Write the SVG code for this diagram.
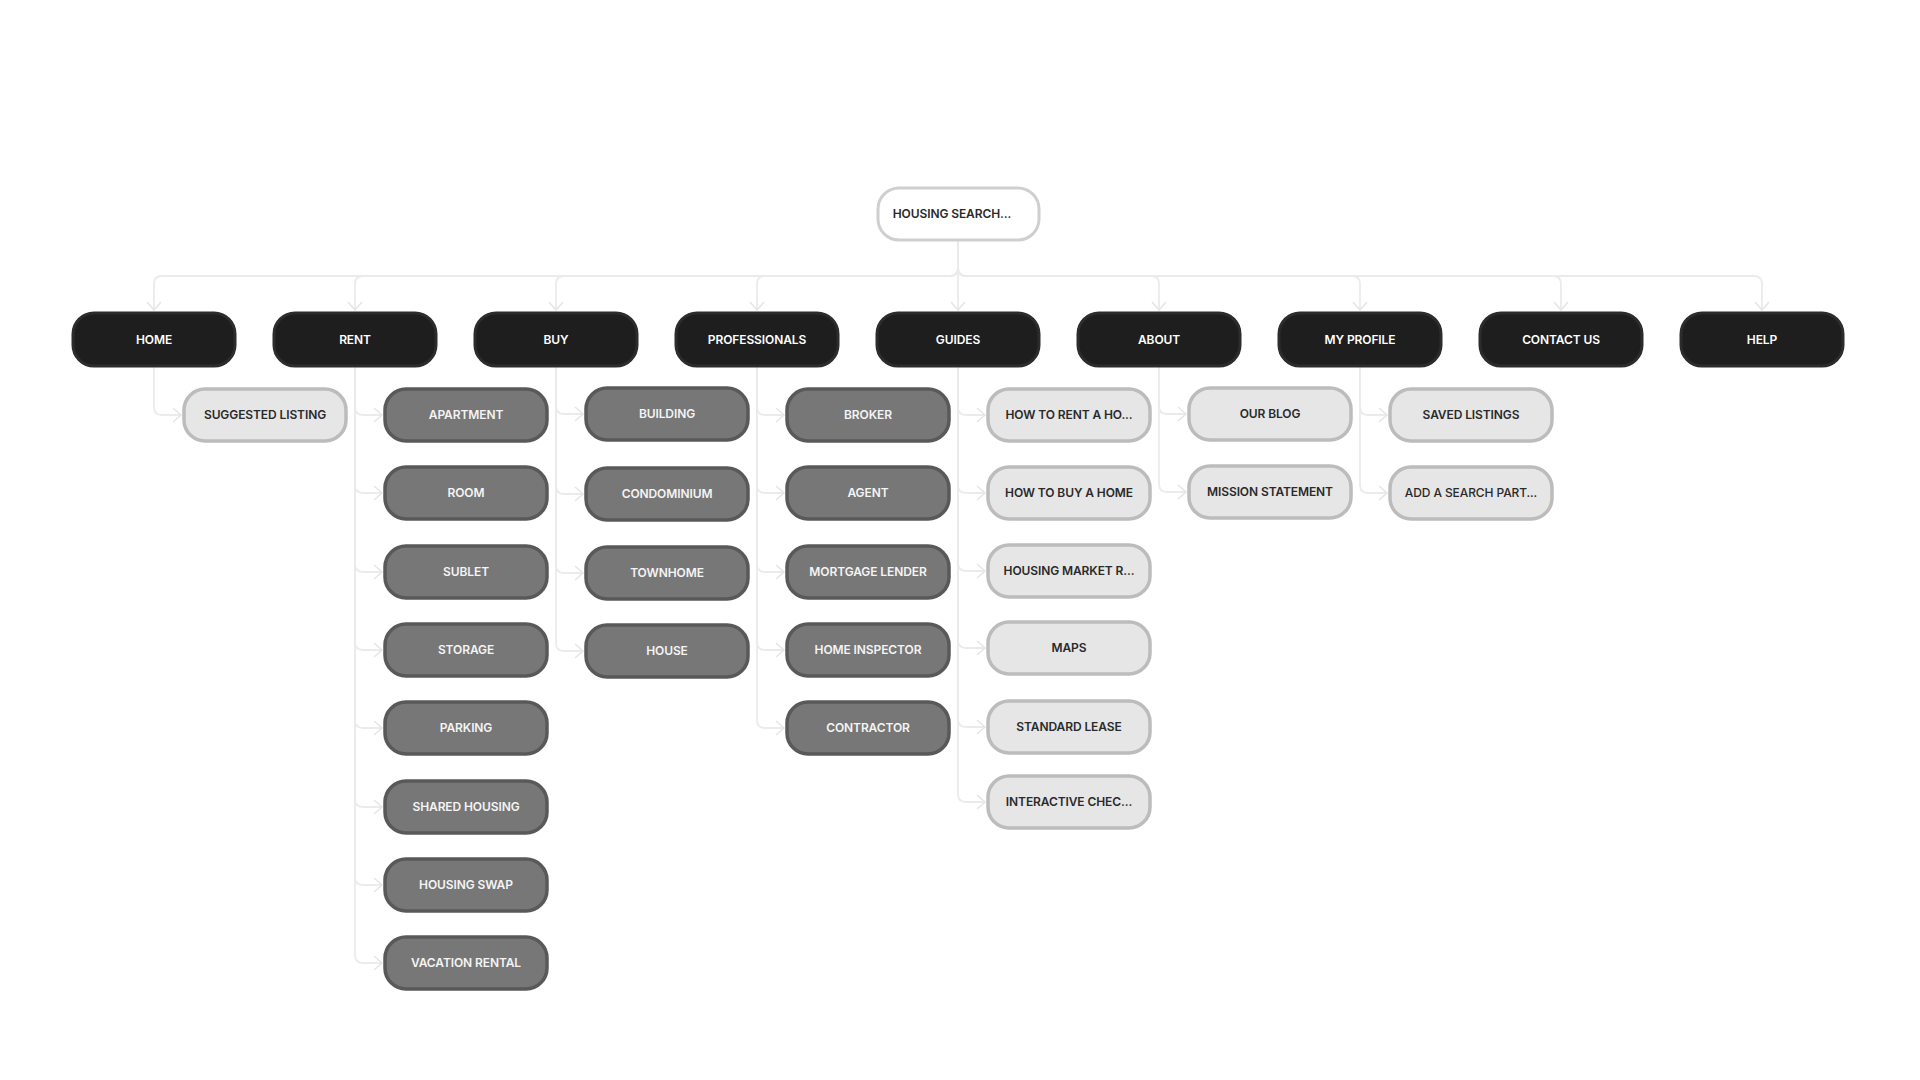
<svg xmlns="http://www.w3.org/2000/svg" width="1920" height="1080" viewBox="0 0 1920 1080">
<defs>
<style>
.t{font-family:Inter,"Noto Sans","Liberation Sans",sans-serif;font-size:12px;font-weight:600;text-anchor:middle;letter-spacing:-0.1px}
.root rect{fill:#ffffff;stroke:#cfcfcf;stroke-width:3}
.root text{fill:#2a2a2a}
.l1 rect{fill:#1e1e1e;stroke:#2c2c2c;stroke-width:3}
.l1 text{fill:#ffffff}
.dk rect{fill:#777777;stroke:#595959;stroke-width:3.5}
.dk text{fill:#f4f4f4}
.lt rect{fill:#e6e6e6;stroke:#bcbcbc;stroke-width:3.5}
.lt text{fill:#2a2a2a}
.c path{fill:none;stroke:#ebebeb;stroke-width:1.8}
</style>
<marker id="ah" markerUnits="userSpaceOnUse" markerWidth="12" markerHeight="16" viewBox="0 0 12 16" refX="10" refY="8" orient="auto">
<path d="M2 1 L10 8 L2 15" fill="none" stroke="#e6e6e6" stroke-width="1.6"/>
</marker>
</defs>
<rect width="1920" height="1080" fill="#ffffff"/>
<g class="c" id="connectors">
<path d="M958 241 V268 Q958 276 950 276 H162 Q154 276 154 284 V310" marker-end="url(#ah)"/>
<path d="M958 241 V268 Q958 276 950 276 H363 Q355 276 355 284 V310" marker-end="url(#ah)"/>
<path d="M958 241 V268 Q958 276 950 276 H564 Q556 276 556 284 V310" marker-end="url(#ah)"/>
<path d="M958 241 V268 Q958 276 950 276 H765 Q757 276 757 284 V310" marker-end="url(#ah)"/>
<path d="M958 241 V310" marker-end="url(#ah)"/>
<path d="M958 241 V268 Q958 276 966 276 H1151 Q1159 276 1159 284 V310" marker-end="url(#ah)"/>
<path d="M958 241 V268 Q958 276 966 276 H1352 Q1360 276 1360 284 V310" marker-end="url(#ah)"/>
<path d="M958 241 V268 Q958 276 966 276 H1553 Q1561 276 1561 284 V310" marker-end="url(#ah)"/>
<path d="M958 241 V268 Q958 276 966 276 H1754 Q1762 276 1762 284 V310" marker-end="url(#ah)"/>
<path d="M154 367 V407 Q154 415 162 415 H181" marker-end="url(#ah)"/>
<path d="M355 367 V407 Q355 415 363 415 H382" marker-end="url(#ah)"/>
<path d="M355 367 V485 Q355 493 363 493 H382" marker-end="url(#ah)"/>
<path d="M355 367 V564 Q355 572 363 572 H382" marker-end="url(#ah)"/>
<path d="M355 367 V642 Q355 650 363 650 H382" marker-end="url(#ah)"/>
<path d="M355 367 V720 Q355 728 363 728 H382" marker-end="url(#ah)"/>
<path d="M355 367 V799 Q355 807 363 807 H382" marker-end="url(#ah)"/>
<path d="M355 367 V877 Q355 885 363 885 H382" marker-end="url(#ah)"/>
<path d="M355 367 V955 Q355 963 363 963 H382" marker-end="url(#ah)"/>
<path d="M556 367 V406 Q556 414 564 414 H583" marker-end="url(#ah)"/>
<path d="M556 367 V486 Q556 494 564 494 H583" marker-end="url(#ah)"/>
<path d="M556 367 V565 Q556 573 564 573 H583" marker-end="url(#ah)"/>
<path d="M556 367 V643 Q556 651 564 651 H583" marker-end="url(#ah)"/>
<path d="M757 367 V407 Q757 415 765 415 H784" marker-end="url(#ah)"/>
<path d="M757 367 V485 Q757 493 765 493 H784" marker-end="url(#ah)"/>
<path d="M757 367 V564 Q757 572 765 572 H784" marker-end="url(#ah)"/>
<path d="M757 367 V642 Q757 650 765 650 H784" marker-end="url(#ah)"/>
<path d="M757 367 V720 Q757 728 765 728 H784" marker-end="url(#ah)"/>
<path d="M958 367 V407 Q958 415 966 415 H985" marker-end="url(#ah)"/>
<path d="M958 367 V485 Q958 493 966 493 H985" marker-end="url(#ah)"/>
<path d="M958 367 V563 Q958 571 966 571 H985" marker-end="url(#ah)"/>
<path d="M958 367 V640 Q958 648 966 648 H985" marker-end="url(#ah)"/>
<path d="M958 367 V719 Q958 727 966 727 H985" marker-end="url(#ah)"/>
<path d="M958 367 V794 Q958 802 966 802 H985" marker-end="url(#ah)"/>
<path d="M1159 367 V406 Q1159 414 1167 414 H1186" marker-end="url(#ah)"/>
<path d="M1159 367 V484 Q1159 492 1167 492 H1186" marker-end="url(#ah)"/>
<path d="M1360 367 V407 Q1360 415 1368 415 H1387" marker-end="url(#ah)"/>
<path d="M1360 367 V485 Q1360 493 1368 493 H1387" marker-end="url(#ah)"/>
</g>
<g id="root" class="root"><rect x="878" y="188" width="161" height="52" rx="21"/><text class="t" x="952" y="217.5">HOUSING SEARCH...</text></g>
<g id="home" class="l1"><rect x="73" y="313" width="162" height="53" rx="21"/><text class="t" x="154" y="343.5">HOME</text></g>
<g id="rent" class="l1"><rect x="274" y="313" width="162" height="53" rx="21"/><text class="t" x="355" y="343.5">RENT</text></g>
<g id="buy" class="l1"><rect x="475" y="313" width="162" height="53" rx="21"/><text class="t" x="556" y="343.5">BUY</text></g>
<g id="professionals" class="l1"><rect x="676" y="313" width="162" height="53" rx="21"/><text class="t" x="757" y="343.5">PROFESSIONALS</text></g>
<g id="guides" class="l1"><rect x="877" y="313" width="162" height="53" rx="21"/><text class="t" x="958" y="343.5">GUIDES</text></g>
<g id="about" class="l1"><rect x="1078" y="313" width="162" height="53" rx="21"/><text class="t" x="1159" y="343.5">ABOUT</text></g>
<g id="myprofile" class="l1"><rect x="1279" y="313" width="162" height="53" rx="21"/><text class="t" x="1360" y="343.5">MY PROFILE</text></g>
<g id="contactus" class="l1"><rect x="1480" y="313" width="162" height="53" rx="21"/><text class="t" x="1561" y="343.5">CONTACT US</text></g>
<g id="help" class="l1"><rect x="1681" y="313" width="162" height="53" rx="21"/><text class="t" x="1762" y="343.5">HELP</text></g>

<g id="suggested" class="lt"><rect x="184" y="389" width="162" height="52" rx="21"/><text class="t" x="265" y="418.5">SUGGESTED LISTING</text></g>

<g id="apartment" class="dk"><rect x="385" y="389" width="162" height="52" rx="21"/><text class="t" x="466" y="418.5">APARTMENT</text></g>
<g id="room" class="dk"><rect x="385" y="467" width="162" height="52" rx="21"/><text class="t" x="466" y="496.5">ROOM</text></g>
<g id="sublet" class="dk"><rect x="385" y="546" width="162" height="52" rx="21"/><text class="t" x="466" y="575.5">SUBLET</text></g>
<g id="storage" class="dk"><rect x="385" y="624" width="162" height="52" rx="21"/><text class="t" x="466" y="653.5">STORAGE</text></g>
<g id="parking" class="dk"><rect x="385" y="702" width="162" height="52" rx="21"/><text class="t" x="466" y="731.5">PARKING</text></g>
<g id="shared" class="dk"><rect x="385" y="781" width="162" height="52" rx="21"/><text class="t" x="466" y="810.5">SHARED HOUSING</text></g>
<g id="swap" class="dk"><rect x="385" y="859" width="162" height="52" rx="21"/><text class="t" x="466" y="888.5">HOUSING SWAP</text></g>
<g id="vacation" class="dk"><rect x="385" y="937" width="162" height="52" rx="21"/><text class="t" x="466" y="966.5">VACATION RENTAL</text></g>

<g id="building" class="dk"><rect x="586" y="388" width="162" height="52" rx="21"/><text class="t" x="667" y="417.5">BUILDING</text></g>
<g id="condominium" class="dk"><rect x="586" y="468" width="162" height="52" rx="21"/><text class="t" x="667" y="497.5">CONDOMINIUM</text></g>
<g id="townhome" class="dk"><rect x="586" y="547" width="162" height="52" rx="21"/><text class="t" x="667" y="576.5">TOWNHOME</text></g>
<g id="house" class="dk"><rect x="586" y="625" width="162" height="52" rx="21"/><text class="t" x="667" y="654.5">HOUSE</text></g>

<g id="broker" class="dk"><rect x="787" y="389" width="162" height="52" rx="21"/><text class="t" x="868" y="418.5">BROKER</text></g>
<g id="agent" class="dk"><rect x="787" y="467" width="162" height="52" rx="21"/><text class="t" x="868" y="496.5">AGENT</text></g>
<g id="mortgage" class="dk"><rect x="787" y="546" width="162" height="52" rx="21"/><text class="t" x="868" y="575.5">MORTGAGE LENDER</text></g>
<g id="inspector" class="dk"><rect x="787" y="624" width="162" height="52" rx="21"/><text class="t" x="868" y="653.5">HOME INSPECTOR</text></g>
<g id="contractor" class="dk"><rect x="787" y="702" width="162" height="52" rx="21"/><text class="t" x="868" y="731.5">CONTRACTOR</text></g>

<g id="howrent" class="lt"><rect x="988" y="389" width="162" height="52" rx="21"/><text class="t" x="1069" y="418.5">HOW TO RENT A HO...</text></g>
<g id="howbuy" class="lt"><rect x="988" y="467" width="162" height="52" rx="21"/><text class="t" x="1069" y="496.5">HOW TO BUY A HOME</text></g>
<g id="market" class="lt"><rect x="988" y="545" width="162" height="52" rx="21"/><text class="t" x="1069" y="574.5">HOUSING MARKET R...</text></g>
<g id="maps" class="lt"><rect x="988" y="622" width="162" height="52" rx="21"/><text class="t" x="1069" y="651.5">MAPS</text></g>
<g id="lease" class="lt"><rect x="988" y="701" width="162" height="52" rx="21"/><text class="t" x="1069" y="730.5">STANDARD LEASE</text></g>
<g id="checklist" class="lt"><rect x="988" y="776" width="162" height="52" rx="21"/><text class="t" x="1069" y="805.5">INTERACTIVE CHEC...</text></g>

<g id="blog" class="lt"><rect x="1189" y="388" width="162" height="52" rx="21"/><text class="t" x="1270" y="417.5">OUR BLOG</text></g>
<g id="mission" class="lt"><rect x="1189" y="466" width="162" height="52" rx="21"/><text class="t" x="1270" y="495.5">MISSION STATEMENT</text></g>

<g id="saved" class="lt"><rect x="1390" y="389" width="162" height="52" rx="21"/><text class="t" x="1471" y="418.5">SAVED LISTINGS</text></g>
<g id="partner" class="lt"><rect x="1390" y="467" width="162" height="52" rx="21"/><text class="t" x="1471" y="496.5" style="font-weight:500">ADD A SEARCH PART...</text></g>
</svg>
